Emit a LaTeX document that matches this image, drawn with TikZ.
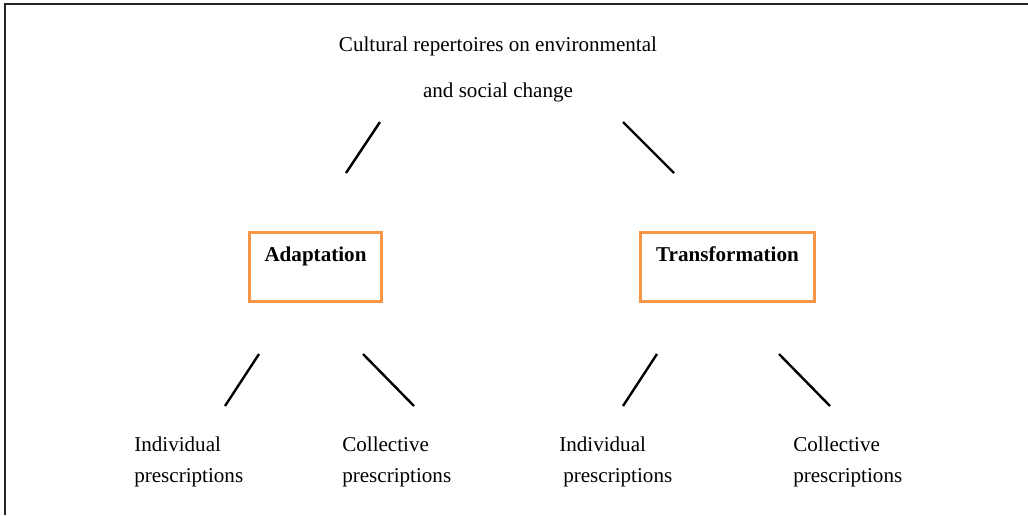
\documentclass[tikz,border=0pt]{standalone}
\usepackage{fontspec}
\setmainfont{Liberation Serif}
\definecolor{boxorange}{HTML}{F79646}
\tikzset{
  txt/.style={inner sep=0pt, font=\fontsize{15}{18}\selectfont},
  cbox/.style={draw=boxorange, line width=2pt, minimum width=3.3cm, minimum height=1.72cm, inner sep=0pt},
  twig/.style={line width=1.7pt},
}
\begin{document}
\begin{tikzpicture}[x=0.025cm,y=-0.025cm]
	\useasboundingbox (0,0) rectangle (1028,515);
	% frame
	\draw[line width=1.4pt, color=black!85] (5,515)--(5,4)--(1028,4);
	% title
	\node[txt, anchor=base] (title1) at (498,51) {Cultural repertoires on environmental};
	\node[txt, anchor=base] (title2) at (498,97) {and social change};
	% the two boxes
	\node[cbox, minimum width=3.3cm] (adapt) at (315.5,267) {};
	\node[cbox, minimum width=4.35cm] (trans) at (727.5,267) {};
	\node[txt, anchor=base] (adaptlbl) at (315.5,261) {\textbf{Adaptation}};
	\node[txt, anchor=base] (translbl) at (727.5,261) {\textbf{Transformation}};
	% bottom labels
	\node[txt, anchor=base west] (ind1) at (134,451) {Individual};
	\node[txt, anchor=base west] (ind1b) at (134,482) {prescriptions};
	\node[txt, anchor=base west] (col1) at (342,451) {Collective};
	\node[txt, anchor=base west] (col1b) at (342,482) {prescriptions};
	\node[txt, anchor=base west] (ind2) at (559,451) {Individual};
	\node[txt, anchor=base west] (ind2b) at (563,482) {prescriptions};
	\node[txt, anchor=base west] (col2) at (793,451) {Collective};
	\node[txt, anchor=base west] (col2b) at (793,482) {prescriptions};
	% line ends
	\coordinate (tl1) at (380,122); \coordinate (tl2) at (346,173);
	\coordinate (tr1) at (623,122); \coordinate (tr2) at (674,173);
	\coordinate (al1) at (259,354); \coordinate (al2) at (225,406);
	\coordinate (ar1) at (363,354); \coordinate (ar2) at (414,406);
	\coordinate (bl1) at (657,354); \coordinate (bl2) at (623,406);
	\coordinate (br1) at (779,354); \coordinate (br2) at (830,406);
	\draw[twig] (tl1)--(tl2);
	\draw[twig] (tr1)--(tr2);
	\draw[twig] (al1)--(al2);
	\draw[twig] (ar1)--(ar2);
	\draw[twig] (bl1)--(bl2);
	\draw[twig] (br1)--(br2);
\end{tikzpicture}
\end{document}
